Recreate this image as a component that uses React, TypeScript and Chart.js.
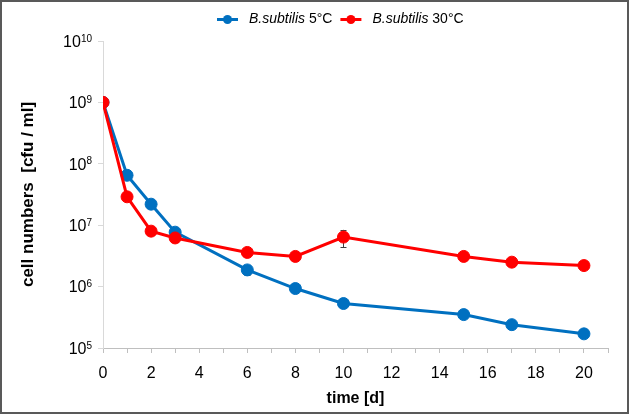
import React, { useEffect, useRef } from 'react';
import { Chart, registerables } from 'chart.js';

Chart.register(...registerables);

const FONT = "'Liberation Sans', Arial, sans-serif";

const days = [0, 1, 2, 3, 6, 8, 10, 15, 17, 20];
const seriesLabels = ['5°C', '30°C'];
const speciesName = 'B.subtilis';
const cold5 = [1.0e9, 6.5e7, 2.2e7, 7.7e6, 1.87e6, 9.3e5, 5.3e5, 3.5e5, 2.4e5, 1.7e5];
const warm30 = [1.0e9, 2.9e7, 8.0e6, 6.2e6, 3.6e6, 3.1e6, 6.4e6, 3.1e6, 2.5e6, 2.2e6];
const cold5Err = [0, 0, 2.5e6, 8e5, 3.5e5, 0, 0, 0, 0, 0];
const warm30Err = [0, 0, 0, 0, 5e5, 0, 2.0e6, 0, 0, 0];
const yExponents = [5, 6, 7, 8, 9, 10];
const xTitle = 'time [d]';
const yTitle = 'cell numbers  [cfu / ml]';

const BLUE = '#0070C0';
const RED = '#FF0000';

export default function App() {
  const ref = useRef<HTMLCanvasElement>(null);

  useEffect(() => {
    document.body.style.margin = '0';
    const canvas = ref.current;
    if (!canvas) return;

    const errs = [cold5Err, warm30Err];

    const errorBars = {
      id: 'errorBars',
      beforeDatasetsDraw(chart: any) {
        const ctx = chart.ctx;
        const xs = chart.scales.x;
        const ys = chart.scales.y;
        ctx.save();
        ctx.strokeStyle = '#404040';
        ctx.lineWidth = 1;
        chart.data.datasets.forEach((ds: any, di: number) => {
          ds.data.forEach((p: any, i: number) => {
            const e = errs[di][i];
            if (!e) return;
            const px = Math.round(xs.getPixelForValue(p.x)) + 0.5;
            const top = ys.getPixelForValue(p.y + e);
            const bot = ys.getPixelForValue(Math.max(p.y - e, 1e5));
            ctx.beginPath();
            ctx.moveTo(px, top);
            ctx.lineTo(px, bot);
            ctx.moveTo(px - 3, Math.round(top) + 0.5);
            ctx.lineTo(px + 3, Math.round(top) + 0.5);
            ctx.moveTo(px - 3, Math.round(bot) + 0.5);
            ctx.lineTo(px + 3, Math.round(bot) + 0.5);
            ctx.stroke();
          });
        });
        ctx.restore();
      },
    };

    const decor = {
      id: 'decor',
      afterDraw(chart: any) {
        const ctx = chart.ctx;
        const ys = chart.scales.y;
        ctx.save();
        // y tick labels with superscript exponents
        ctx.fillStyle = '#000';
        ctx.textBaseline = 'alphabetic';
        const rightEdge = 92;
        yExponents.forEach((k) => {
          const y = ys.getPixelForValue(Math.pow(10, k));
          ctx.font = `10px ${FONT}`;
          const exp = String(k);
          const ew = ctx.measureText(exp).width;
          ctx.font = `16px ${FONT}`;
          const bw = ctx.measureText('10').width;
          const bx = rightEdge - ew - bw;
          ctx.fillText('10', bx, y + 5.7);
          ctx.font = `10px ${FONT}`;
          ctx.fillText(exp, bx + bw, y + 0.5);
        });

        // legend
        const ly = 19.5;
        let x = 217;
        const colors = [BLUE, RED];
        seriesLabels.forEach((lab, i) => {
          ctx.strokeStyle = colors[i];
          ctx.lineWidth = 3;
          ctx.beginPath();
          ctx.moveTo(x, ly);
          ctx.lineTo(x + 21, ly);
          ctx.stroke();
          ctx.fillStyle = colors[i];
          ctx.beginPath();
          ctx.arc(x + 10.5, ly, 4.5, 0, Math.PI * 2);
          ctx.fill();
          x += 32;
          ctx.fillStyle = '#000';
          ctx.textBaseline = 'middle';
          ctx.font = `italic 14px ${FONT}`;
          ctx.fillText(speciesName, x, ly);
          x += ctx.measureText(speciesName).width;
          ctx.font = `14px ${FONT}`;
          const t = ' ' + lab;
          ctx.fillText(t, x, ly);
          x += ctx.measureText(t).width + 8;
        });

        // outer frame
        ctx.strokeStyle = '#595959';
        ctx.lineWidth = 2;
        ctx.strokeRect(1, 1, chart.width - 2, chart.height - 2);
        ctx.restore();
      },
    };

    const mk = (label: string, vals: number[], color: string, order: number) => ({
      label,
      data: days.map((d, i) => ({ x: d, y: vals[i] })),
      borderColor: color,
      backgroundColor: color,
      borderWidth: 3,
      pointRadius: 6,
      pointBorderWidth: 1,
      pointBackgroundColor: color,
      pointBorderColor: color,
      tension: 0,
      order,
    });

    const chart = new Chart(canvas, {
      type: 'line',
      data: {
        datasets: [
          mk(`${speciesName} ${seriesLabels[0]}`, cold5, BLUE, 1),
          mk(`${speciesName} ${seriesLabels[1]}`, warm30, RED, 0),
        ],
      },
      plugins: [errorBars, decor],
      options: {
        responsive: false,
        animation: false,
        devicePixelRatio: 1,
        layout: { padding: { top: 41, right: 21, left: 0, bottom: 0 } },
        plugins: { legend: { display: false }, tooltip: { enabled: false } },
        scales: {
          x: {
            type: 'linear',
            min: 0,
            max: 21,
            afterFit: (s: any) => { s.height = 66; },
            ticks: {
              stepSize: 1,
              autoSkip: false,
              maxRotation: 0,
              padding: 11,
              color: '#000',
              font: { family: FONT, size: 16 },
              callback: (v: any) => (v % 2 === 0 && v <= 20 ? String(v) : ''),
            },
            grid: { drawOnChartArea: false, drawTicks: true, tickLength: 5, color: '#bfbfbf' },
            border: { color: '#bfbfbf' },
            title: {
              display: true,
              text: xTitle,
              color: '#000',
              font: { family: FONT, size: 16, weight: 'bold' },
              padding: { top: 0, bottom: 6 },
            },
          },
          y: {
            type: 'logarithmic',
            min: 1e5,
            max: 1e10,
            afterFit: (s: any) => { s.width = 103; },
            afterBuildTicks: (s: any) => {
              s.ticks = yExponents.map((k) => ({ value: Math.pow(10, k) }));
            },
            ticks: { callback: () => '', color: '#000' },
            grid: { drawOnChartArea: false, drawTicks: true, tickLength: 5, color: '#d9d9d9' },
            border: { color: '#d9d9d9' },
            title: {
              display: true,
              text: yTitle,
              color: '#000',
              font: { family: FONT, size: 17, weight: 'bold' },
              padding: { top: 18, bottom: 0 },
            },
          },
        },
      },
    } as any);

    return () => chart.destroy();
  }, []);

  return (
    <div style={{ width: 629, height: 414 }}>
      <canvas ref={ref} width={629} height={414} style={{ display: 'block' }} />
    </div>
  );
}
